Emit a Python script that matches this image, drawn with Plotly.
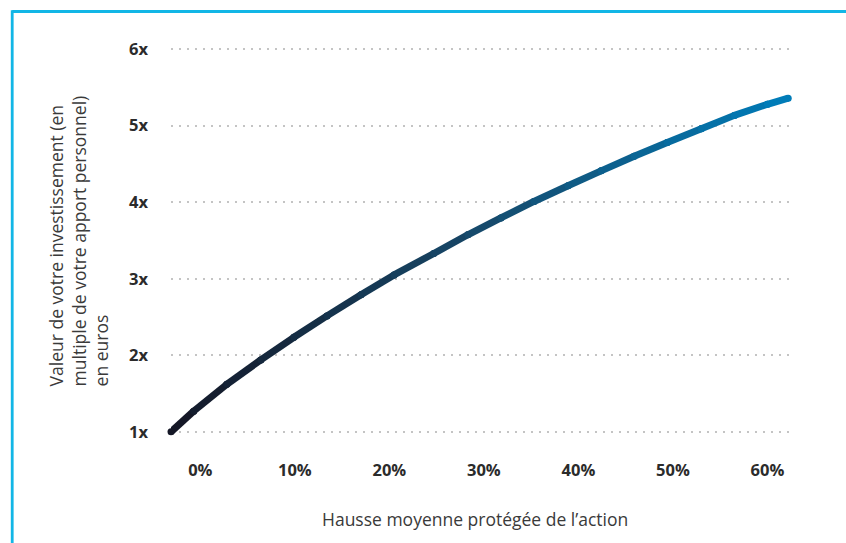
import plotly.graph_objects as go

# Data
hausse_pct = [-3.1, -0.7, 2.8, 6.4, 9.9, 13.4, 17.0, 20.5, 24.7, 28.3, 31.8,
              35.3, 38.9, 42.4, 45.9, 49.4, 53.0, 56.5, 60.0, 62.2]
multiple = [1.0, 1.27, 1.62, 1.94, 2.235, 2.515, 2.79, 3.05, 3.33, 3.575, 3.795,
            4.01, 4.215, 4.41, 4.60, 4.78, 4.96, 5.135, 5.28, 5.36]

x_tickvals = [0, 10, 20, 30, 40, 50, 60]
x_ticktext = ["0%", "10%", "20%", "30%", "40%", "50%", "60%"]
y_tickvals = [1, 2, 3, 4, 5, 6]
y_ticktext = ["1x", "2x", "3x", "4x", "5x", "6x"]

x_title = "Hausse moyenne protégée de l’action"
y_title = "Valeur de votre investissement (en<br>multiple de votre apport personnel)<br>en euros"

# gradient stops (style)
stops = [(0.0, (0x14, 0x17, 0x26)), (0.5, (0x16, 0x4a, 0x6c)), (1.0, (0x00, 0x7c, 0xb8))]


def grad(t):
    for (t0, c0), (t1, c1) in zip(stops[:-1], stops[1:]):
        if t <= t1:
            f = (t - t0) / (t1 - t0) if t1 > t0 else 0
            c = [round(a + (b - a) * f) for a, b in zip(c0, c1)]
            return "rgb(%d,%d,%d)" % tuple(c)
    return "rgb(%d,%d,%d)" % stops[-1][1]


fig = go.Figure()
n = len(hausse_pct)
for i in range(n - 1):
    col = grad(i / (n - 2))
    fig.add_trace(go.Scatter(
        x=hausse_pct[i:i + 2], y=multiple[i:i + 2],
        mode="lines+markers",
        line=dict(color=col, width=7),
        marker=dict(color=col, size=7, line=dict(width=0)),
        cliponaxis=False,
        hoverinfo="skip", showlegend=False,
    ))

font_family = "Open Sans, Noto Sans, sans-serif"

fig.update_layout(
    width=846, height=543,
    margin=dict(l=171, r=54, t=40, b=102),
    paper_bgcolor="white", plot_bgcolor="white",
    font=dict(family=font_family, color="#333333"),
    showlegend=False,
    xaxis=dict(
        range=[-3.1, 62.6],
        tickvals=x_tickvals, ticktext=x_ticktext,
        tickfont=dict(size=16.5, color="#2b2b2b", weight="bold"),
        showgrid=False, zeroline=False, showline=False,
        ticks="", ticklabelstandoff=17,
    ),
    yaxis=dict(
        range=[0.88, 6.12],
        tickvals=y_tickvals, ticktext=y_ticktext,
        tickfont=dict(size=16.5, color="#2b2b2b", weight="bold"),
        showgrid=True, gridcolor="#c4c4c4", gridwidth=2, griddash="2px,6px",
        zeroline=False, showline=False,
        ticks="", ticklabelstandoff=22,
    ),
    annotations=[
        dict(text=x_title, xref="paper", yref="paper",
             x=0.4895, y=-0.1945, xanchor="center", yanchor="middle",
             showarrow=False, font=dict(size=17.5, color="#3a3a3a", family=font_family)),
        dict(text=y_title, xref="paper", yref="paper",
             x=-0.148, y=0.498, xanchor="center", yanchor="middle",
             textangle=-90, align="left", showarrow=False,
             font=dict(size=17.5, color="#3a3a3a", family=font_family)),
    ],
    shapes=[
        dict(type="line", xref="paper", yref="paper",
             x0=-0.2557, x1=1.1, y0=1.0711, y1=1.0711,
             line=dict(color="#12b6e6", width=2.8)),
        dict(type="line", xref="paper", yref="paper",
             x0=-0.2557, x1=-0.2557, y0=1.0745, y1=-0.3,
             line=dict(color="#12b6e6", width=2.8)),
    ],
)

fig.write_html("out.html", config={"displayModeBar": False},
               post_script="document.body.style.margin='0px';")
